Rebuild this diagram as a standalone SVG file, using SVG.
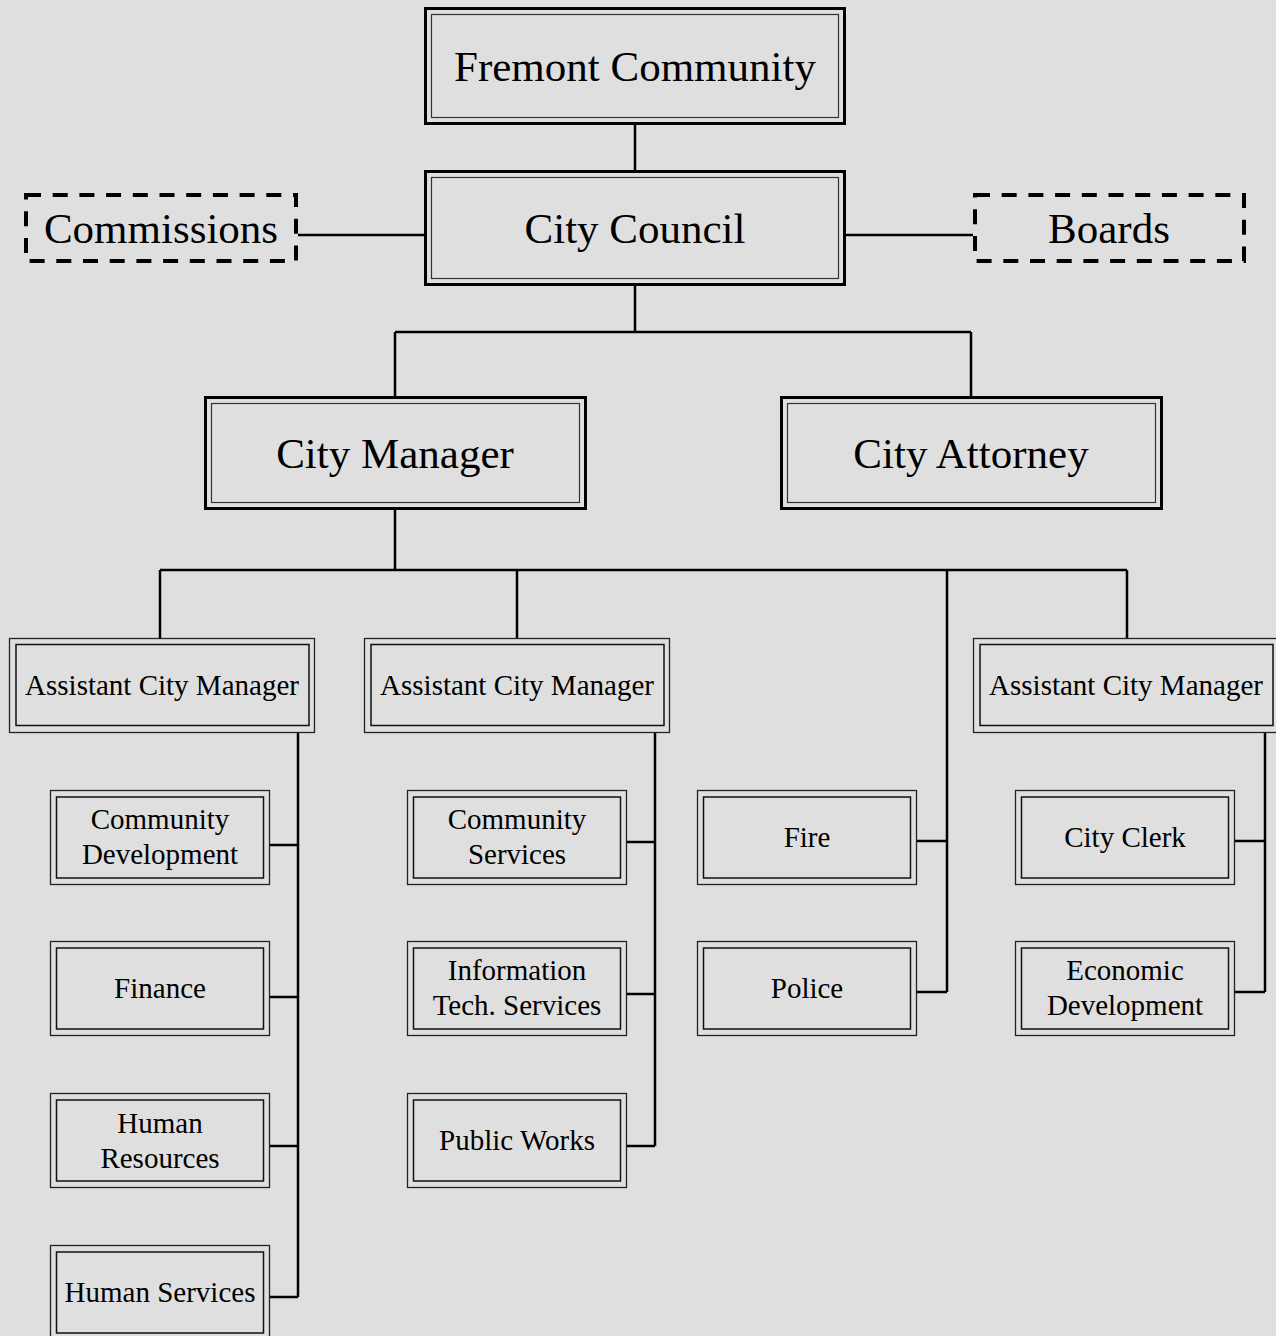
<svg xmlns="http://www.w3.org/2000/svg" width="1276" height="1336" viewBox="0 0 1276 1336">
<style>
.bg{fill:#dfdfdf}
.bo{fill:#dfdfdf;stroke:#000;stroke-width:3}
.bi{fill:none;stroke:#333;stroke-width:1.2}
.so{fill:#dfdfdf;stroke:#222;stroke-width:1.3}
.si{fill:none;stroke:#111;stroke-width:1.5}
.dash{fill:#dfdfdf;stroke:#000;stroke-width:4;stroke-dasharray:15 11.7}
.big{font-family:"Liberation Serif","Times New Roman",serif;font-size:43px;fill:#000;text-anchor:middle}
.sm{font-family:"Liberation Serif","Times New Roman",serif;font-size:29px;fill:#000;text-anchor:middle}
.c{fill:none;stroke:#000;stroke-width:2.5}
</style>
<rect class="bg" x="0" y="0" width="1276" height="1336"/>
<g id="connectors">
<path class="c" d="M635 125V170M635 286V332M395 332H971M395 332V397M971 332V397M298 235H425M846 235H973"/>
<path class="c" d="M395 510V570M160 570H1127M160 570V638M517 570V638M1127 570V638M947 570V992"/>
<path class="c" d="M298 733V1297M270 845H298M270 997H298M270 1146H298M270 1297H298"/>
<path class="c" d="M655 733V1146M627 842H655M627 994H655M627 1146H655"/>
<path class="c" d="M917 841H947M917 992H947"/>
<path class="c" d="M1265 733V992M1235 841H1265M1235 992H1265"/>
</g>
<g id="fremont"><rect class="bo" x="425.5" y="8.5" width="419" height="115"/><rect class="bi" x="431.5" y="14.5" width="407" height="103"/><text class="big" x="635" y="81">Fremont Community</text></g>
<g id="council"><rect class="bo" x="425.5" y="171.5" width="419" height="113"/><rect class="bi" x="431.5" y="177.5" width="407" height="101"/><text class="big" x="635" y="243">City Council</text></g>
<g id="commissions"><rect class="dash" x="26" y="195" width="270" height="66"/><text class="big" x="161" y="243">Commissions</text></g>
<g id="boards"><rect class="dash" x="975" y="195" width="269" height="66"/><text class="big" x="1109" y="243">Boards</text></g>
<g id="manager"><rect class="bo" x="205.5" y="397.5" width="380" height="111"/><rect class="bi" x="211.5" y="403.5" width="368" height="99"/><text class="big" x="395" y="468">City Manager</text></g>
<g id="attorney"><rect class="bo" x="781.5" y="397.5" width="380" height="111"/><rect class="bi" x="787.5" y="403.5" width="368" height="99"/><text class="big" x="971" y="468">City Attorney</text></g>
<g id="acm1"><rect class="so" x="9.5" y="638.5" width="305" height="94"/><rect class="si" x="16" y="644.5" width="293" height="81"/><text class="sm" x="162" y="695">Assistant City Manager</text></g>
<g id="acm2"><rect class="so" x="364.5" y="638.5" width="305" height="94"/><rect class="si" x="371" y="644.5" width="293" height="81"/><text class="sm" x="517" y="695">Assistant City Manager</text></g>
<g id="acm3"><rect class="so" x="973.5" y="638.5" width="305" height="94"/><rect class="si" x="980" y="644.5" width="293" height="81"/><text class="sm" x="1126" y="695">Assistant City Manager</text></g>
<g id="comdev"><rect class="so" x="50.5" y="790.5" width="219" height="94"/><rect class="si" x="56.5" y="797" width="207" height="81"/><text class="sm" x="160" y="829">Community</text><text class="sm" x="160" y="864">Development</text></g>
<g id="finance"><rect class="so" x="50.5" y="941.5" width="219" height="94"/><rect class="si" x="56.5" y="948" width="207" height="81"/><text class="sm" x="160" y="998">Finance</text></g>
<g id="hr"><rect class="so" x="50.5" y="1093.5" width="219" height="94"/><rect class="si" x="56.5" y="1100" width="207" height="81"/><text class="sm" x="160" y="1133">Human</text><text class="sm" x="160" y="1168">Resources</text></g>
<g id="hs"><rect class="so" x="50.5" y="1245.5" width="219" height="94"/><rect class="si" x="56.5" y="1252" width="207" height="81"/><text class="sm" x="160" y="1302">Human Services</text></g>
<g id="comserv"><rect class="so" x="407.5" y="790.5" width="219" height="94"/><rect class="si" x="413.5" y="797" width="207" height="81"/><text class="sm" x="517" y="829">Community</text><text class="sm" x="517" y="864">Services</text></g>
<g id="its"><rect class="so" x="407.5" y="941.5" width="219" height="94"/><rect class="si" x="413.5" y="948" width="207" height="81"/><text class="sm" x="517" y="980">Information</text><text class="sm" x="517" y="1015">Tech. Services</text></g>
<g id="pw"><rect class="so" x="407.5" y="1093.5" width="219" height="94"/><rect class="si" x="413.5" y="1100" width="207" height="81"/><text class="sm" x="517" y="1150">Public Works</text></g>
<g id="fire"><rect class="so" x="697.5" y="790.5" width="219" height="94"/><rect class="si" x="703.5" y="797" width="207" height="81"/><text class="sm" x="807" y="847">Fire</text></g>
<g id="police"><rect class="so" x="697.5" y="941.5" width="219" height="94"/><rect class="si" x="703.5" y="948" width="207" height="81"/><text class="sm" x="807" y="998">Police</text></g>
<g id="clerk"><rect class="so" x="1015.5" y="790.5" width="219" height="94"/><rect class="si" x="1021.5" y="797" width="207" height="81"/><text class="sm" x="1125" y="847">City Clerk</text></g>
<g id="econ"><rect class="so" x="1015.5" y="941.5" width="219" height="94"/><rect class="si" x="1021.5" y="948" width="207" height="81"/><text class="sm" x="1125" y="980">Economic</text><text class="sm" x="1125" y="1015">Development</text></g>
</svg>
